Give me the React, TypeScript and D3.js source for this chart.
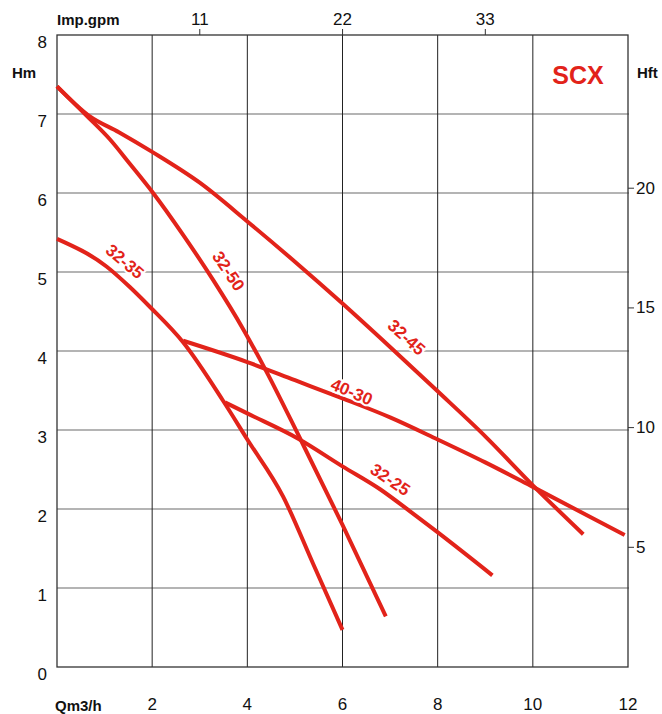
import React from "react";
import * as d3 from "d3";

// Flow (m3/h) ticks and head (m) ticks
const qTicks = [2, 4, 6, 8, 10, 12];
const hTicks = [0, 1, 2, 3, 4, 5, 6, 7, 8];
const gpmTicks = [11, 22, 33];
const ftTicks = [5, 10, 15, 20];

// Curves: [Q m3/h, H m]
const c3250: [number, number][] = [
  [0, 7.35], [0.62, 6.98], [1.11, 6.68], [1.53, 6.37], [2.02, 6.0], [2.65, 5.47],
  [3.28, 4.9], [3.91, 4.28], [4.41, 3.73], [5.07, 2.94], [6.0, 1.8], [6.91, 0.64],
];
const c3245: [number, number][] = [
  [0, 7.35], [0.69, 6.97], [1.3, 6.77], [2.0, 6.52], [3.0, 6.13], [4.0, 5.64],
  [5.0, 5.13], [6.0, 4.6], [7.0, 4.05], [8.0, 3.49], [9.0, 2.92], [10.0, 2.3], [11.06, 1.68],
];
const c4030: [number, number][] = [
  [2.65, 4.13], [4.0, 3.86], [5.0, 3.63], [6.0, 3.4], [7.0, 3.16],
  [8.0, 2.88], [9.0, 2.59], [10.0, 2.28], [11.93, 1.67],
];
const c3235: [number, number][] = [
  [0, 5.42], [1.04, 5.07], [1.53, 4.81], [1.95, 4.56], [2.65, 4.11], [3.49, 3.37],
  [4.0, 2.88], [4.75, 2.16], [5.38, 1.31], [6.0, 0.47],
];
const c3225: [number, number][] = [
  [3.53, 3.35], [4.0, 3.21], [5.07, 2.89], [6.0, 2.54], [6.79, 2.25], [7.42, 1.97],
  [8.01, 1.7], [9.15, 1.16],
];

const curves = [c3250, c3245, c4030, c3235, c3225];

// labels: text, anchor Q, anchor H, angle
const labelNames = ["32-35", "32-50", "32-45", "40-30", "32-25"];
const labelQ = [1.42, 3.6, 7.34, 6.19, 7.0];
const labelH = [5.13, 5.01, 4.17, 3.48, 2.37];
const labelAngle = [40, 56, 42, 23, 34];

const RED = "#e2231a";
const FONT = "'Liberation Sans', Arial, Helvetica, sans-serif";

export default function App() {
  const W = 662, H = 714;
  const x0 = 57, x1 = 628, y0 = 667, y1 = 35;
  const x = d3.scaleLinear().domain([0, 12]).range([x0, x1]);
  const y = d3.scaleLinear().domain([0, 8]).range([y0, y1]);
  const xg = d3.scaleLinear().domain([0, 12 * 3.666]).range([x0, x1]);
  const yf = d3.scaleLinear().domain([0, 8 * 3.3]).range([y0, y1]);
  const line = d3
    .line<[number, number]>()
    .x((d) => x(d[0]))
    .y((d) => y(d[1]))
    .curve(d3.curveMonotoneX);

  return (
    <svg
      width={W}
      height={H}
      style={{ position: "absolute", left: 0, top: 0, background: "#fff" }}
      fontFamily={FONT}
    >
      <rect x={0} y={0} width={W} height={H} fill="#fff" />
      {/* horizontal grid */}
      {hTicks.slice(1, -1).map((t) => (
        <line key={"h" + t} x1={x0} x2={x1 + 1} y1={y(t)} y2={y(t)} stroke="#6b6b6b" strokeWidth={1.2} />
      ))}
      {/* vertical grid */}
      {qTicks.slice(0, -1).map((t) => (
        <line key={"v" + t} x1={x(t)} x2={x(t)} y1={y1} y2={y0} stroke="#222" strokeWidth={1} />
      ))}
      {/* border */}
      <rect x={x0} y={y1} width={x1 - x0} height={y0 - y1} fill="none" stroke="#333" strokeWidth={1.3} />

      {/* top gpm ticks */}
      {gpmTicks.map((t) => (
        <g key={"g" + t}>
          <line x1={xg(t)} x2={xg(t)} y1={y1} y2={y1 - 6} stroke="#333" strokeWidth={1} />
          <text x={xg(t)} y={19} textAnchor="middle" dominantBaseline="central" fontSize={17} fill="#111">
            {t}
          </text>
        </g>
      ))}
      {/* right ft ticks */}
      {ftTicks.map((t) => (
        <g key={"f" + t}>
          <line x1={x1} x2={x1 + 6} y1={yf(t)} y2={yf(t)} stroke="#333" strokeWidth={1} />
          <text x={x1 + 8} y={yf(t)} dominantBaseline="central" fontSize={17} fill="#111">
            {t}
          </text>
        </g>
      ))}
      {/* left H labels */}
      {hTicks.map((t) => (
        <text key={"hl" + t} x={47} y={y(t) + 7} textAnchor="end" dominantBaseline="central" fontSize={17} fill="#111">
          {t}
        </text>
      ))}
      {/* bottom Q labels */}
      {qTicks.map((t) => (
        <text key={"ql" + t} x={x(t)} y={704} textAnchor="middle" dominantBaseline="central" fontSize={17} fill="#111">
          {t}
        </text>
      ))}

      {/* axis titles */}
      <text x={57} y={19} dominantBaseline="central" fontSize={15} fontWeight="bold" fill="#111">Imp.gpm</text>
      <text x={12} y={72} dominantBaseline="central" fontSize={15} fontWeight="bold" fill="#111">Hm</text>
      <text x={637} y={72} dominantBaseline="central" fontSize={15} fontWeight="bold" fill="#111">Hft</text>
      <text x={55} y={705} dominantBaseline="central" fontSize={15} fontWeight="bold" fill="#111">Qm3/h</text>
      <text x={578} y={75} textAnchor="middle" dominantBaseline="central" fontSize={25} fontWeight="bold" fill={RED}>SCX</text>

      {/* curves */}
      {curves.map((c, i) => (
        <path key={"c" + i} d={line(c) || ""} fill="none" stroke={RED} strokeWidth={4} strokeLinejoin="round" />
      ))}

      {/* curve labels */}
      {labelNames.map((n, i) => (
        <text
          key={"l" + i}
          transform={`translate(${x(labelQ[i])},${y(labelH[i])}) rotate(${labelAngle[i]})`}
          textAnchor="middle"
          dominantBaseline="central"
          fontSize={17}
          fontWeight="bold"
          fill={RED}
          stroke="#fff"
          strokeWidth={4}
          paintOrder="stroke"
        >
          {n}
        </text>
      ))}
    </svg>
  );
}
